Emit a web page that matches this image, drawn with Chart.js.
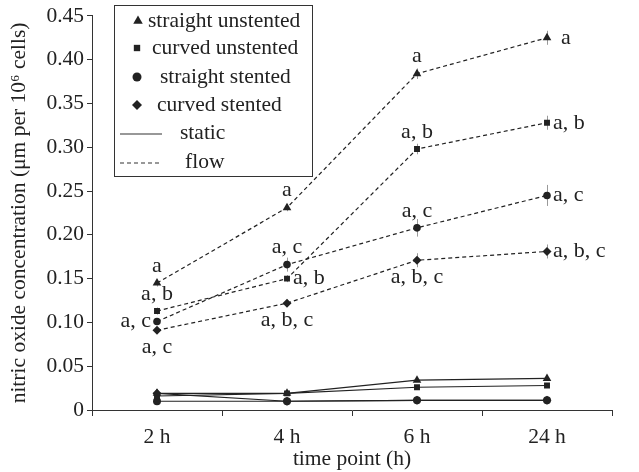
<!DOCTYPE html>
<html>
<head>
<meta charset="utf-8">
<script src="https://cdn.jsdelivr.net/npm/chart.js@4"></script>
<style>
  html, body { margin: 0; padding: 0; background: #fff; }
  #wrap { width: 639px; height: 472px; position: relative; }
</style>
</head>
<body>
<div id="wrap"><canvas id="noChart"></canvas></div>
<script>
const timePoints = ["2 h", "4 h", "6 h", "24 h"];

// flow (dashed)
const flowStraightUnstented = [0.145, 0.231, 0.384, 0.425];
const flowCurvedUnstented = [0.113, 0.150, 0.298, 0.328];
const flowStraightStented = [0.101, 0.166, 0.208, 0.245];
const flowCurvedStented = [0.091, 0.122, 0.171, 0.181];

// static (solid)
const staticStraightUnstented = [0.019, 0.019, 0.034, 0.036];
const staticCurvedUnstented = [0.016, 0.019, 0.026, 0.028];
const staticStraightStented = [0.010, 0.010, 0.011, 0.011];
const staticCurvedStented = [0.019, 0.010, 0.011, 0.011];

// error bars (flow)
const errStraightUnstented = [0.004, 0.004, 0.006, 0.008];
const errCurvedUnstented = [0.004, 0.004, 0.006, 0.008];
const errStraightStented = [0.004, 0.008, 0.010, 0.012];
const errCurvedStented = [0.003, 0.004, 0.008, 0.008];

// significance letters (flow)
const sigStraightUnstented = ["a", "a", "a", "a"];
const sigCurvedUnstented = ["a, b", "a, b", "a, b", "a, b"];
const sigStraightStented = ["a, c", "a, c", "a, c", "a, c"];
const sigCurvedStented = ["a, c", "a, b, c", "a, b, c", "a, b, c"];

const yTicks = [0, 0.05, 0.10, 0.15, 0.20, 0.25, 0.30, 0.35, 0.40, 0.45];

const FONT = "'Liberation Serif', 'DejaVu Serif', serif";
const INK = "#222";

function series(label, data, style, radius, dashed) {
  return {
    label,
    data,
    borderColor: INK,
    backgroundColor: INK,
    borderWidth: 1.2,
    borderDash: dashed ? [4, 3] : [],
    pointStyle: style,
    pointRadius: radius,
    pointBorderWidth: 0,
    pointBackgroundColor: INK,
    tension: 0,
    fill: false,
  };
}

const datasets = [
  series("straight unstented flow", flowStraightUnstented, "triangle", 5, true),
  series("curved unstented flow", flowCurvedUnstented, "rect", 4.2, true),
  series("straight stented flow", flowStraightStented, "circle", 3.8, true),
  series("curved stented flow", flowCurvedStented, "rectRot", 4.5, true),
  series("straight unstented static", staticStraightUnstented, "triangle", 5, false),
  series("curved unstented static", staticCurvedUnstented, "rect", 4.2, false),
  series("straight stented static", staticStraightStented, "circle", 4, false),
  series("curved stented static", staticCurvedStented, "rectRot", 4.5, false),
];
datasets[0].errors = errStraightUnstented;
datasets[1].errors = errCurvedUnstented;
datasets[2].errors = errStraightStented;
datasets[3].errors = errCurvedStented;
datasets[0].sig = sigStraightUnstented;
datasets[1].sig = sigCurvedUnstented;
datasets[2].sig = sigStraightStented;
datasets[3].sig = sigCurvedStented;
// where each letter sits relative to its point
datasets[0].sigPos = ["above", "above", "above", "right"];
datasets[1].sigPos = ["above", "right", "above", "right"];
datasets[2].sigPos = ["left", "above", "above", "right"];
datasets[3].sigPos = ["below", "below", "below", "right"];

// error bars drawn under the lines
const errorBars = {
  id: "errorBars",
  beforeDatasetsDraw(chart) {
    const ctx = chart.ctx;
    const y = chart.scales.y;
    ctx.save();
    ctx.strokeStyle = "#999";
    ctx.lineWidth = 1;
    chart.data.datasets.forEach((ds, i) => {
      if (!ds.errors) return;
      const meta = chart.getDatasetMeta(i);
      meta.data.forEach((pt, j) => {
        const v = ds.data[j];
        const e = ds.errors[j];
        ctx.beginPath();
        ctx.moveTo(Math.round(pt.x) + 0.5, y.getPixelForValue(v + e));
        ctx.lineTo(Math.round(pt.x) + 0.5, y.getPixelForValue(v - e));
        ctx.stroke();
      });
    });
    ctx.restore();
  },
};

// significance letters next to flow points
const sigLabels = {
  id: "sigLabels",
  afterDatasetsDraw(chart) {
    const ctx = chart.ctx;
    ctx.save();
    ctx.fillStyle = INK;
    ctx.font = "22px " + FONT;
    chart.data.datasets.forEach((ds, i) => {
      if (!ds.sig) return;
      const meta = chart.getDatasetMeta(i);
      meta.data.forEach((pt, j) => {
        const pos = ds.sigPos[j];
        let x = pt.x, yy = pt.y;
        ctx.textBaseline = "middle";
        if (pos === "above") { ctx.textAlign = "center"; yy -= 17; }
        else if (pos === "below") { ctx.textAlign = "center"; yy += 17; }
        else if (pos === "left") { ctx.textAlign = "right"; x -= 6; }
        else { ctx.textAlign = "left"; x += (ds.sig[j] === "a" ? 14 : 6); }
        ctx.fillText(ds.sig[j], x, yy);
      });
    });
    ctx.restore();
  },
};

function drawMarker(ctx, style, x, y, r) {
  Chart.helpers.drawPoint(ctx, { pointStyle: style, radius: r, borderWidth: 0 }, x, y);
}

// boxed legend in the top-left corner
const boxLegend = {
  id: "boxLegend",
  afterDraw(chart) {
    const ctx = chart.ctx;
    ctx.save();
    ctx.strokeStyle = "#333";
    ctx.lineWidth = 1;
    ctx.fillStyle = "#fff";
    ctx.fillRect(114, 5, 198, 171);
    ctx.strokeRect(114.5, 5.5, 198, 171);
    ctx.fillStyle = INK;
    ctx.font = "21.5px " + FONT;
    ctx.textBaseline = "middle";
    ctx.textAlign = "left";
    const rows = [
      { style: "triangle", r: 5.5, mx: 138, tx: 148, y: 21, text: "straight unstented" },
      { style: "rect", r: 4.5, mx: 137, tx: 152, y: 48, text: "curved unstented" },
      { style: "circle", r: 4.5, mx: 137, tx: 160, y: 77, text: "straight stented" },
      { style: "rectRot", r: 5, mx: 137, tx: 157, y: 105, text: "curved stented" },
    ];
    rows.forEach((r) => {
      drawMarker(ctx, r.style, r.mx, r.y, r.r);
      ctx.fillText(r.text, r.tx, r.y);
    });
    ctx.lineWidth = 1.2;
    ctx.beginPath();
    ctx.moveTo(120, 134);
    ctx.lineTo(162, 134);
    ctx.stroke();
    ctx.fillText("static", 180, 133);
    ctx.setLineDash([4, 3]);
    ctx.beginPath();
    ctx.moveTo(120, 163);
    ctx.lineTo(160, 163);
    ctx.stroke();
    ctx.setLineDash([]);
    ctx.fillText("flow", 185, 162);
    ctx.restore();
  },
};

new Chart(document.getElementById("noChart"), {
  type: "line",
  data: { labels: timePoints, datasets },
  options: {
    responsive: true,
    maintainAspectRatio: false,
    animation: false,
    layout: { padding: { top: 15, right: 27, left: 6, bottom: 0 } },
    plugins: { legend: { display: false }, tooltip: { enabled: false } },
    scales: {
      x: {
        type: "category",
        offset: true,
        grid: { display: true, drawOnChartArea: false, offset: true, color: "#333", tickLength: 6 },
        border: { color: "#333", width: 1 },
        ticks: { color: INK, font: { family: FONT, size: 21.5 }, padding: 8 },
        title: { display: true, text: "time point (h)", color: INK, font: { family: FONT, size: 21.5 }, padding: { top: 0, bottom: 0 } },
        afterFit: (s) => { s.height = 62; },
      },
      y: {
        min: 0,
        max: 0.45,
        afterBuildTicks: (s) => { s.ticks = yTicks.map((v) => ({ value: v })); },
        grid: { display: true, drawOnChartArea: false, color: "#333", tickLength: 5 },
        border: { color: "#333", width: 1 },
        ticks: {
          color: INK,
          font: { family: FONT, size: 21.5 },
          padding: 3,
          callback: (v) => (v === 0 ? "0" : Number(v).toFixed(2)),
        },
        title: { display: true, text: "nitric oxide concentration (μm per 10⁶ cells)", color: INK, font: { family: FONT, size: 21.5 }, padding: { top: 0, bottom: 0 } },
        afterFit: (s) => { s.width = 86; },
      },
    },
  },
  plugins: [errorBars, sigLabels, boxLegend],
});
</script>
</body>
</html>
